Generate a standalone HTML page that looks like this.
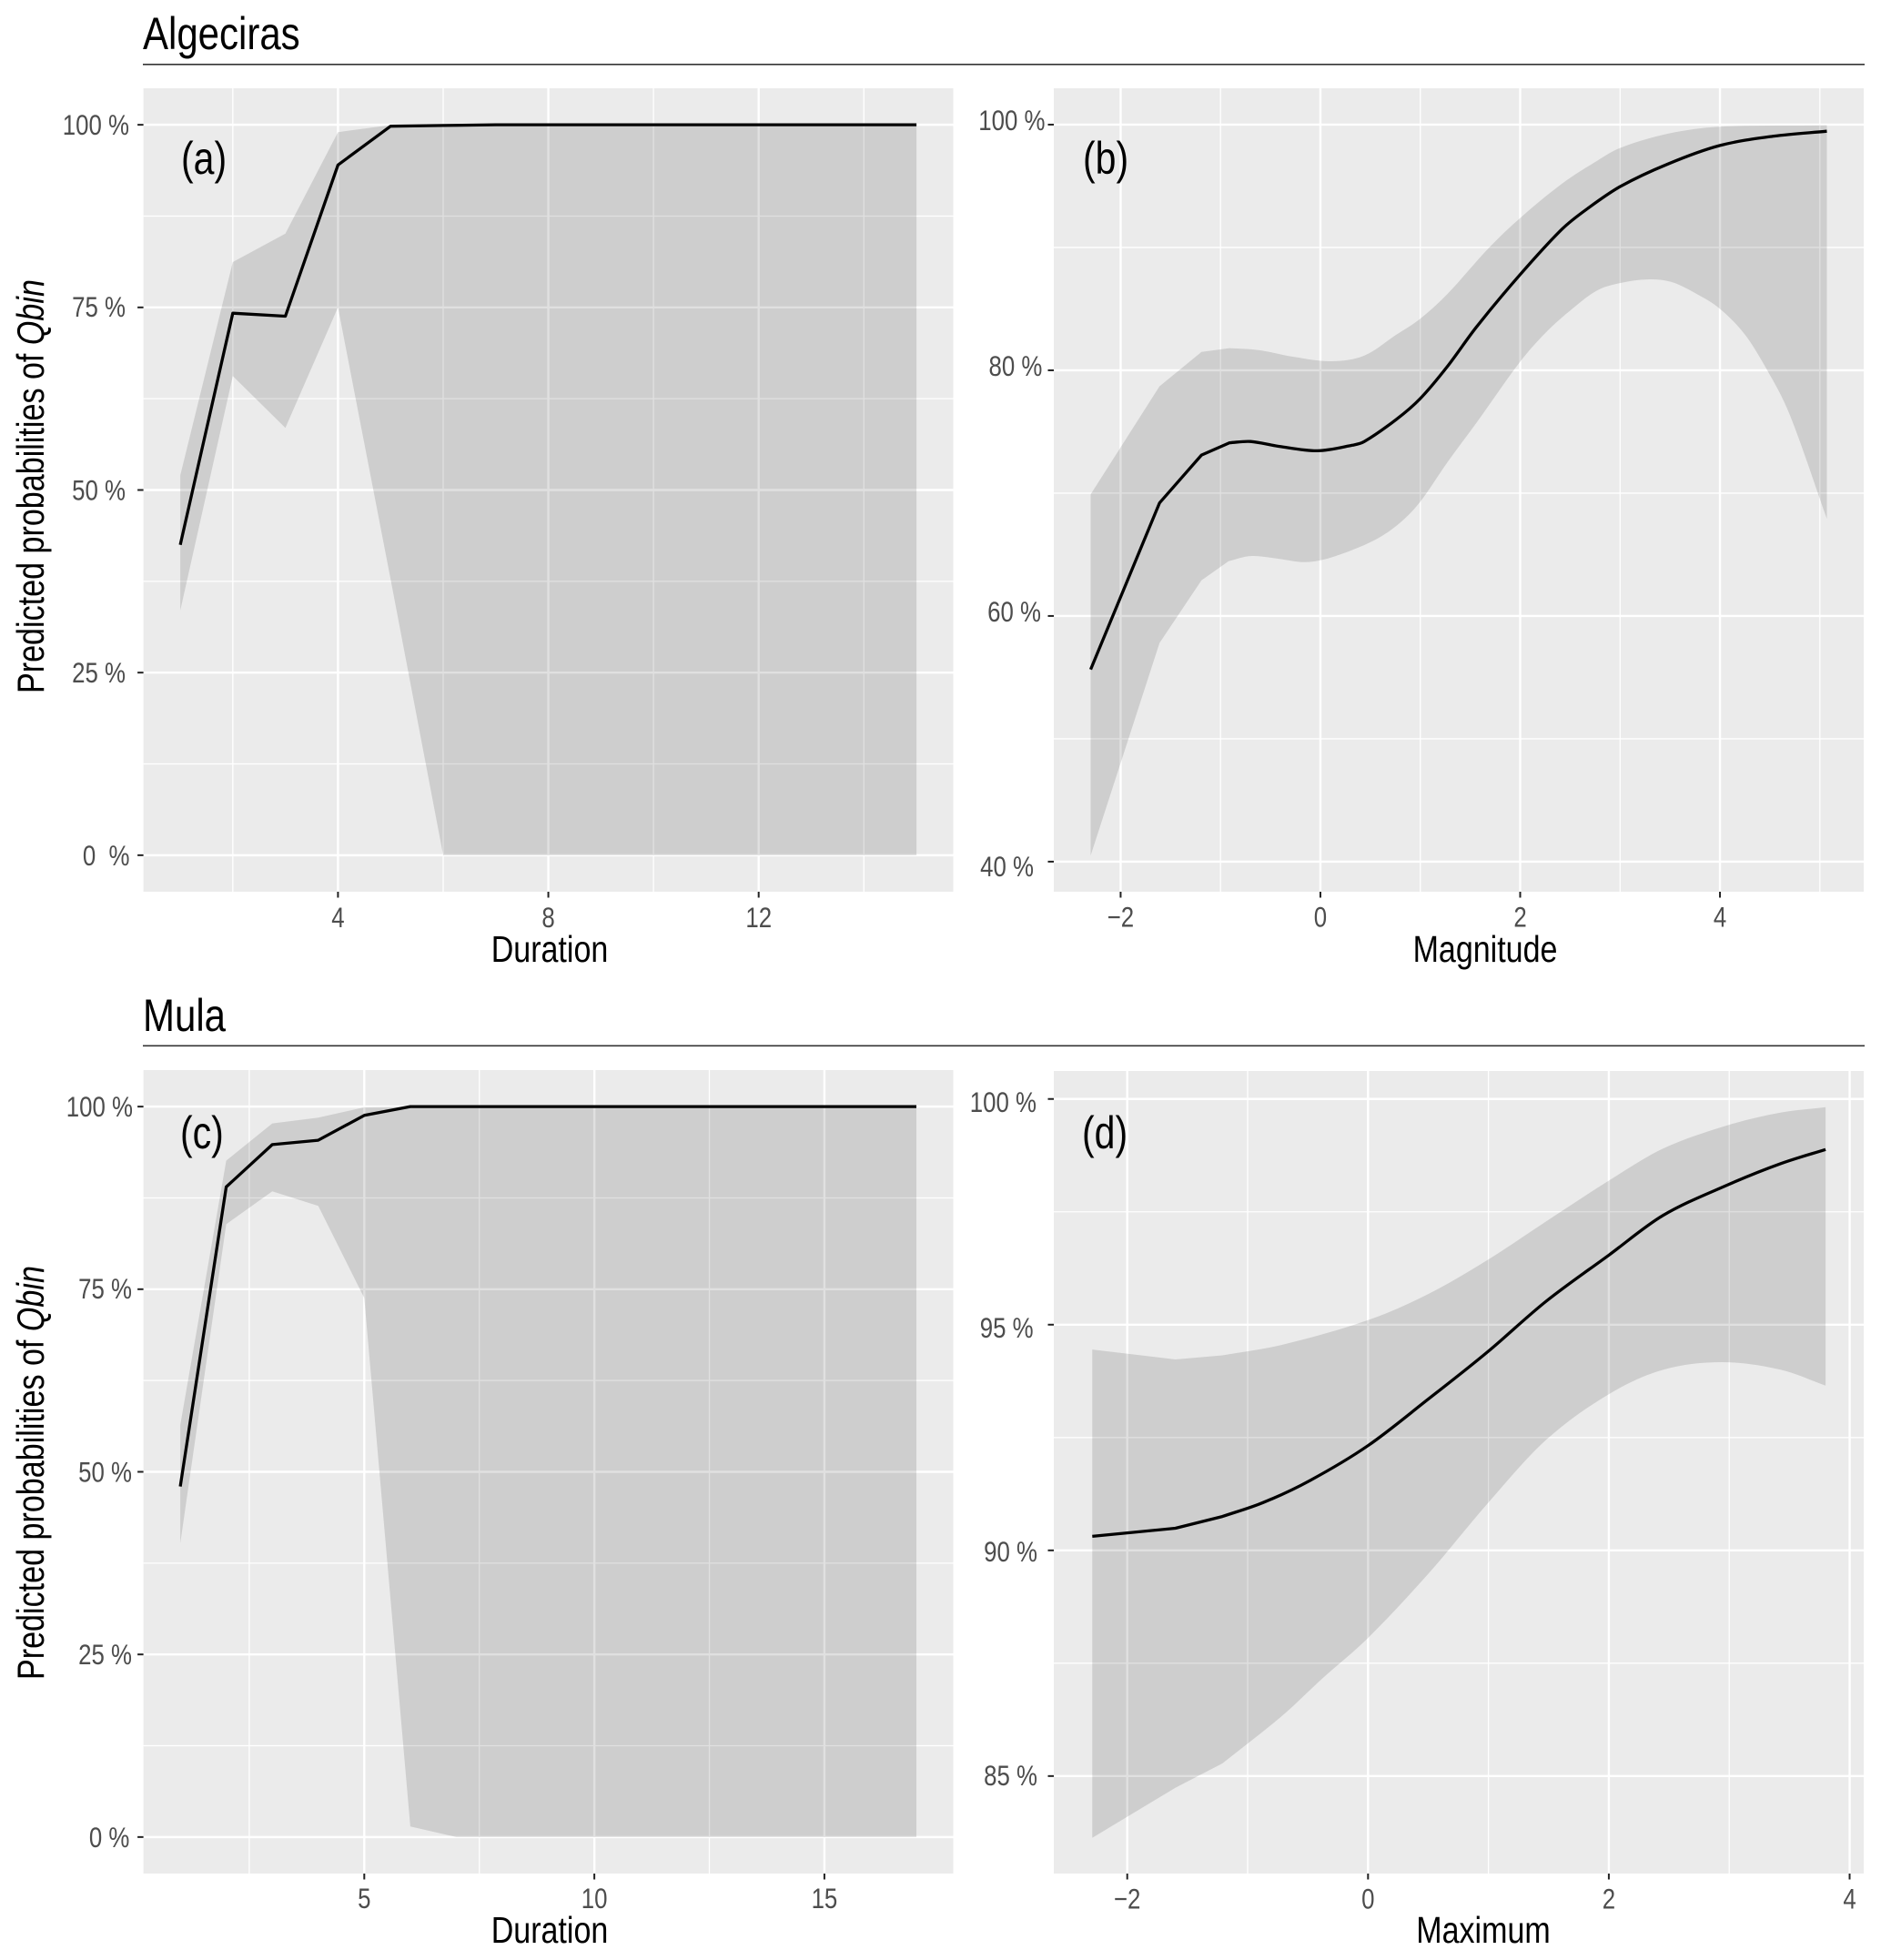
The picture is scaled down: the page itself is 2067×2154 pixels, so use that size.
<!DOCTYPE html>
<html lang="en">
<head>
<meta charset="utf-8">
<title>Predicted probabilities of Qbin: Algeciras and Mula</title>
<style>
html,body{margin:0;padding:0;background:#fff;}
svg{display:block;}
text{font-family:"Liberation Sans",sans-serif;}
</style>
</head>
<body>
<svg id="chart" xmlns="http://www.w3.org/2000/svg" width="2067" height="2154" viewBox="0 0 2067 2154">
  <rect width="2067" height="2154" fill="#fff"/>

  <text transform="translate(157,54) scale(.84,1)" font-size="50" fill="#000">Algeciras</text>
  <rect x="157" y="70" width="1892" height="1.6" fill="#333"/>
  <text transform="translate(157,1133) scale(.84,1)" font-size="50" fill="#000">Mula</text>
  <rect x="157" y="1148.5" width="1892" height="1.6" fill="#333"/>

  <g id="plots"></g>

  <text transform="translate(48,762) rotate(-90) scale(.812,1)" font-size="42" fill="#000">Predicted probabilities of <tspan font-style="italic">Qbin</tspan></text>
  <text transform="translate(48,1846) rotate(-90) scale(.812,1)" font-size="42" fill="#000">Predicted probabilities of <tspan font-style="italic">Qbin</tspan></text>

  <text transform="translate(604,1057) scale(.83,1)" font-size="41" text-anchor="middle" fill="#000">Duration</text>
  <text transform="translate(1632,1057) scale(.83,1)" font-size="41" text-anchor="middle" fill="#000">Magnitude</text>
  <text transform="translate(604,2135) scale(.83,1)" font-size="41" text-anchor="middle" fill="#000">Duration</text>
  <text transform="translate(1630,2135) scale(.83,1)" font-size="41" text-anchor="middle" fill="#000">Maximum</text>

  <text transform="translate(199,191) scale(.82,1)" font-size="50" fill="#000">(a)</text>
  <text transform="translate(1190,191) scale(.82,1)" font-size="50" fill="#000">(b)</text>
  <text transform="translate(198,1262) scale(.82,1)" font-size="50" fill="#000">(c)</text>
  <text transform="translate(1189,1262) scale(.82,1)" font-size="50" fill="#000">(d)</text>
</svg>
<script>
/* ---------- Panel (a) Algeciras, Duration ---------- */
var aX = [1,2,3,4,5,6,7,8,9,10,11,12,13,14,15];
var aFit = [42.5,74.2,73.8,94.5,99.8,99.9,100,100,100,100,100,100,100,100,100];
var aUpper = [52,81.2,85.1,99,99.95,100,100,100,100,100,100,100,100,100,100];
var aLower = [33.5,65.6,58.5,75,37.8,0,0,0,0,0,0,0,0,0,0];
var aXTicks = [4,8,12];
var aXMinor = [2,6,10,14];
var aYTicks = [100,75,50,25,0];
var aYMinor = [87.5,62.5,37.5,12.5];
var aYLabels = ["100 %","75 %","50 %","25 %","0  %"];

/* ---------- Panel (b) Algeciras, Magnitude ---------- */
var bFitX = [-2.3,-1.61,-1.19,-0.91,-0.7,-0.41,-0.03,0.32,0.44,0.76,1,1.27,1.56,2,2.42,2.68,3,3.48,4,4.54,5.07];
var bFit = [55.65,69.2,73.1,74.1,74.2,73.8,73.45,73.9,74.2,76,77.7,80.3,83.5,87.8,91.5,93.2,94.95,96.8,98.3,99.06,99.46];
var bUpperX = [-2.3,-1.61,-1.19,-0.91,-0.62,-0.27,0.11,0.44,0.76,1,1.27,1.69,2,2.42,2.74,3,3.48,4,5.07];
var bUpper = [69.9,78.7,81.5,81.8,81.65,81.1,80.74,81.2,82.9,84.2,86.2,90,92.4,95.2,96.9,98.1,99.26,99.83,99.95];
var bLowerX = [-2.3,-1.61,-1.19,-0.92,-0.7,-0.44,-0.19,0,0.29,0.58,0.8,1,1.27,1.56,2,2.26,2.52,2.77,3,3.27,3.51,3.77,4,4.25,4.47,4.7,5.07];
var bLower = [40.5,57.8,62.9,64.46,64.88,64.68,64.39,64.53,65.28,66.34,67.6,69.3,72.5,75.7,80.7,83.1,85,86.5,87.1,87.4,87.2,86.2,85,82.9,80.05,76.35,67.9];
var bXTicks = [-2,0,2,4];
var bXMinor = [-1,1,3,5];
var bXLabels = ["\u22122","0","2","4"];
var bYTicks = [100,80,60,40];
var bYMinor = [90,70,50];
var bYLabels = ["100 %","80 %","60 %","40 %"];

/* ---------- Panel (c) Mula, Duration ---------- */
var cX = [1,2,3,4,5,6,7,8,9,10,11,12,13,14,15,16,17];
var cFit = [48,89,94.8,95.4,98.8,100,100,100,100,100,100,100,100,100,100,100,100];
var cUpper = [56.4,92.6,97.7,98.5,99.9,100,100,100,100,100,100,100,100,100,100,100,100];
var cLower = [40.2,83.9,88.4,86.4,73.8,1.45,0,0,0,0,0,0,0,0,0,0,0];
var cXTicks = [5,10,15];
var cXMinor = [2.5,7.5,12.5];
var cYTicks = [100,75,50,25,0];
var cYMinor = [87.5,62.5,37.5,12.5];
var cYLabels = ["100 %","75 %","50 %","25 %","0 %"];

/* ---------- Panel (d) Mula, Maximum ---------- */
var dFitX = [-2.29,-1.6,-1.21,-0.87,-0.48,0,0.5,0.99,1.48,2,2.45,2.99,3.43,3.8];
var dFit = [90.31,90.49,90.75,91.06,91.55,92.32,93.35,94.39,95.52,96.54,97.42,98.1,98.57,98.88];
var dUpperX = [-2.29,-1.6,-1.21,-0.72,0,0.5,0.99,1.48,2,2.45,2.99,3.43,3.8];
var dUpper = [94.45,94.23,94.32,94.55,95.1,95.68,96.43,97.29,98.19,98.9,99.42,99.7,99.82];
var dLowerX = [-2.29,-1.6,-1.21,-0.72,-0.38,0,0.5,0.99,1.48,2,2.45,2.94,3.43,3.8];
var dLower = [83.63,84.74,85.28,86.32,87.16,88.06,89.48,91.03,92.45,93.46,94,94.17,94,93.65];
var dXTicks = [-2,0,2,4];
var dXMinor = [-1,1,3];
var dXLabels = ["\u22122","0","2","4"];
var dYTicks = [100,95,90,85];
var dYMinor = [97.5,92.5,87.5];
var dYLabels = ["100 %","95 %","90 %","85 %"];

/* ---------- Layout (frames, domains, label placement) ---------- */
var NS = "http://www.w3.org/2000/svg";
var panels = [
  {id:"a", box:[157.6,97,1047.5,980], xDom:[0.3,15.7], yDom:[-5,105], smoothFrom:Infinity,
   fitX:aX, fit:aFit, upX:aX, up:aUpper, loX:aX, lo:aLower,
   xt:aXTicks, xm:aXMinor, xl:aXTicks.map(String), yt:aYTicks, ym:aYMinor, yl:aYLabels,
   labelEnd:[142,138,138,138,142.5], labelDrop:[11,10,11,11,11], xBase:1019},
  {id:"b", box:[1158,97,2048,980], xDom:[-2.669,5.439], yDom:[37.55,102.96], smoothFrom:-0.95,
   fitX:bFitX, fit:bFit, upX:bUpperX, up:bUpper, loX:bLowerX, lo:bLower,
   xt:bXTicks, xm:bXMinor, xl:bXLabels, yt:bYTicks, ym:bYMinor, yl:bYLabels,
   labelEnd:[1148.5,1145.4,1144,1136], labelDrop:[6,6,6,16], xBase:1018.5},
  {id:"c", box:[157.6,1176,1047.5,2059], xDom:[0.2,17.8], yDom:[-5,105], smoothFrom:Infinity,
   fitX:cX, fit:cFit, upX:cX, up:cUpper, loX:cX, lo:cLower,
   xt:cXTicks, xm:cXMinor, xl:cXTicks.map(String), yt:cYTicks, ym:cYMinor, yl:cYLabels,
   labelEnd:[146,145,145,145,142.4], labelDrop:[11,10,11,11,11], xBase:2097},
  {id:"d", box:[1158,1177,2048,2059], xDom:[-2.61,4.117], yDom:[82.84,100.62], smoothFrom:-1.25,
   fitX:dFitX, fit:dFit, upX:dUpperX, up:dUpper, loX:dLowerX, lo:dLower,
   xt:dXTicks, xm:dXMinor, xl:dXLabels, yt:dYTicks, ym:dYMinor, yl:dYLabels,
   labelEnd:[1139,1135.6,1140,1140], labelDrop:[14,14,12,10], xBase:2097.5}
];

function make(tag, parent, attrs) {
  var el = document.createElementNS(NS, tag);
  for (var k in attrs) el.setAttribute(k, attrs[k]);
  parent.appendChild(el);
  return el;
}
function axisX(p) {
  return function (v) {
    return p.box[0] + (v - p.xDom[0]) / (p.xDom[1] - p.xDom[0]) * (p.box[2] - p.box[0]);
  };
}
function axisY(p) {
  return function (v) {
    return p.box[3] - (v - p.yDom[0]) / (p.yDom[1] - p.yDom[0]) * (p.box[3] - p.box[1]);
  };
}
/* Path through the values; stretches from smoothFrom onward use cubic Hermite segments. */
function tracePath(xs, ys, sx, sy, smoothFrom) {
  var px = xs.map(sx), py = ys.map(sy), n = xs.length, d = "";
  function slope(i) {
    var a = Math.max(i - 1, 0), b = Math.min(i + 1, n - 1);
    if (xs[a] < smoothFrom) a = i;
    return (py[b] - py[a]) / (px[b] - px[a]);
  }
  for (var i = 1; i < n; i++) {
    if (xs[i - 1] >= smoothFrom) {
      var h = (px[i] - px[i - 1]) / 3;
      d += " C" + (px[i - 1] + h).toFixed(1) + " " + (py[i - 1] + slope(i - 1) * h).toFixed(1) + " " +
           (px[i] - h).toFixed(1) + " " + (py[i] - slope(i) * h).toFixed(1) + " " +
           px[i].toFixed(1) + " " + py[i].toFixed(1);
    } else {
      d += " L" + px[i].toFixed(1) + " " + py[i].toFixed(1);
    }
  }
  return {start: px[0].toFixed(1) + " " + py[0].toFixed(1), body: d};
}
/* Same trace walked right to left, for closing the band along its lower edge. */
function traceBack(xs, ys, sx, sy, smoothFrom) {
  var px = xs.map(sx), py = ys.map(sy), n = xs.length, d = " L" + px[n - 1].toFixed(1) + " " + py[n - 1].toFixed(1);
  function slope(i) {
    var a = Math.max(i - 1, 0), b = Math.min(i + 1, n - 1);
    if (xs[a] < smoothFrom) a = i;
    return (py[b] - py[a]) / (px[b] - px[a]);
  }
  for (var i = n - 1; i > 0; i--) {
    if (xs[i - 1] >= smoothFrom) {
      var h = (px[i] - px[i - 1]) / 3;
      d += " C" + (px[i] - h).toFixed(1) + " " + (py[i] - slope(i) * h).toFixed(1) + " " +
           (px[i - 1] + h).toFixed(1) + " " + (py[i - 1] + slope(i - 1) * h).toFixed(1) + " " +
           px[i - 1].toFixed(1) + " " + py[i - 1].toFixed(1);
    } else {
      d += " L" + px[i - 1].toFixed(1) + " " + py[i - 1].toFixed(1);
    }
  }
  return d;
}

var root = document.getElementById("plots");
panels.forEach(function (p) {
  var sx = axisX(p), sy = axisY(p);
  var g = make("g", root, {});
  
  

  var bg = make("rect", g, {x:p.box[0], y:p.box[1], width:p.box[2]-p.box[0], height:p.box[3]-p.box[1], fill:"#ebebeb"});
  
  

  p.xm.forEach(function (v) {
    var l = make("line", g, {x1:sx(v), x2:sx(v), y1:p.box[1], y2:p.box[3], stroke:"#fff", "stroke-width":1.3});
    
    
  });
  p.ym.forEach(function (v) {
    var l = make("line", g, {x1:p.box[0], x2:p.box[2], y1:sy(v), y2:sy(v), stroke:"#fff", "stroke-width":1.3});
    
    
  });
  p.xt.forEach(function (v) {
    var l = make("line", g, {x1:sx(v), x2:sx(v), y1:p.box[1], y2:p.box[3], stroke:"#fff", "stroke-width":2.4});
    
    
  });
  p.yt.forEach(function (v) {
    var l = make("line", g, {x1:p.box[0], x2:p.box[2], y1:sy(v), y2:sy(v), stroke:"#fff", "stroke-width":2.4});
    
    
  });

  var up = tracePath(p.upX, p.up, sx, sy, p.smoothFrom);
  var bandD = "M" + up.start + up.body + traceBack(p.loX, p.lo, sx, sy, p.smoothFrom) + " Z";
  var band = make("path", g, {d:bandD, fill:"#000", "fill-opacity":0.12});
  
  

  var fit = tracePath(p.fitX, p.fit, sx, sy, p.smoothFrom);
  var line = make("path", g, {d:"M" + fit.start + fit.body, fill:"none", stroke:"#000", "stroke-width":3.3, "stroke-linejoin":"round"});
  
  

  p.xt.forEach(function (v, i) {
    var t = make("line", g, {x1:sx(v), x2:sx(v), y1:p.box[3], y2:p.box[3]+6.5, stroke:"#222", "stroke-width":2});
    
    
    var lab = make("text", g, {transform:"translate(" + sx(v) + "," + p.xBase + ") scale(.82,1)", "font-size":31.5, "text-anchor":"middle", fill:"#4d4d4d"});
    
    
    lab.textContent = p.xl[i];
  });
  p.yt.forEach(function (v, i) {
    var t = make("line", g, {x1:p.box[0]-6.5, x2:p.box[0], y1:sy(v), y2:sy(v), stroke:"#222", "stroke-width":2});
    
    
    var lab = make("text", g, {transform:"translate(" + p.labelEnd[i] + "," + (sy(v)+p.labelDrop[i]) + ") scale(.82,1)", "font-size":31.5, "text-anchor":"end", fill:"#4d4d4d"});
    
    
    lab.style.whiteSpace = "pre";
    lab.textContent = p.yl[i];
  });
});
</script>
</body>
</html>
